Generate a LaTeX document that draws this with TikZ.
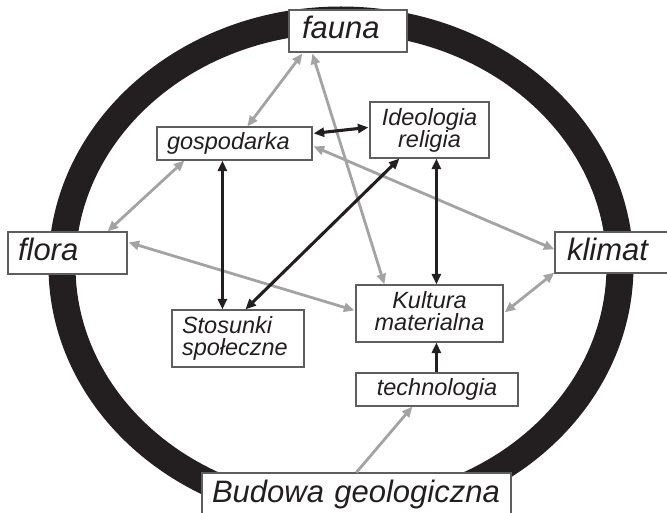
\documentclass[tikz,border=0pt]{standalone}
\usepackage{fontspec}
\setmainfont{Liberation Sans}
\usetikzlibrary{arrows.meta,calc}
\definecolor{ringc}{HTML}{231F20}
\definecolor{arrg}{HTML}{A3A3A3}
\definecolor{boxg}{HTML}{5E5E5E}
\begin{document}
\begin{tikzpicture}[x=1pt,y=-1pt,
  lbl/.style={draw=boxg, line width=1.2pt, fill=white, inner ysep=0pt, text=ringc},
  big/.style={font=\fontsize{31}{32}\selectfont\itshape, text height=22pt, text depth=6.5pt},
  small/.style={font=\fontsize{23.5}{22}\selectfont\itshape},
  one/.style={text height=17pt, text depth=5pt},
  garr/.style={draw=arrg, line width=2.8pt},
  barr/.style={draw=ringc, line width=3.1pt},
  >={Triangle[length=10.5pt,width=9pt]}]
\useasboundingbox (0,0) rectangle (667,513);
% ring
\draw[ringc, line width=27pt] (341,266) ellipse [x radius=279, y radius=246];
% nodes
\node[lbl,big,text width=92pt,inner xsep=13pt,minimum height=42pt,align=left] (fauna) at (348,31) {fauna};
\node[lbl,small,one,text width=135pt,inner xsep=10pt,minimum height=33pt,align=left] (gosp) at (234.5,143.5) {gospodarka};
\node[lbl,small,text width=109pt,inner xsep=5pt,minimum height=56pt,align=center] (ideo) at (429.5,130) {Ideologia\\religia};
\node[lbl,big,text width=99pt,inner xsep=10pt,minimum height=42pt,align=left] (flora) at (67.5,253) {flora};
\node[lbl,big,text width=93pt,inner xsep=12pt,minimum height=41pt,align=left] (klimat) at (613.5,252.5) {klimat};
\node[lbl,small,text width=137pt,inner xsep=5pt,minimum height=57pt,align=center] (kult) at (429.5,313.5) {Kultura\\materialna\vphantom{g}};
\node[lbl,small,text width=112pt,inner xsep=10pt,minimum height=57pt,align=left] (stos) at (238,338.5) {Stosunki\\społeczne};
\node[lbl,small,one,text width=152pt,inner xsep=5pt,minimum height=33pt,align=center] (tech) at (437,389.5) {technologia};
\node[lbl,big,text width=289pt,inner xsep=10pt,minimum height=44pt,align=left] (bud) at (356.5,495) {Budowa geologiczna};
% grey connectors
\draw[garr,<->] ($(fauna.south west)+(14,1)$) -- ($(gosp.north west)+(91,0)$);
\draw[garr,<->] ($(fauna.south west)+(24,1)$) -- ($(kult.north west)+(29,0)$);
\draw[garr,<->] ($(gosp.north east)+(1,20)$) -- ($(klimat.north west)+(0,18)$);
\draw[garr,<->] ($(gosp.south west)+(28,0)$) -- ($(flora.north east)+(-20,0)$);
\draw[garr,<->] ($(flora.north east)+(1,11)$) -- ($(kult.north west)+(-1,26)$);
\draw[garr,<->] ($(klimat.south west)+(0,-1)$) -- ($(kult.north east)+(1,28)$);
\draw[garr,->] ($(bud.north west)+(155,0)$) -- ($(tech.south west)+(57,0)$);
% black connectors
\draw[barr,<->] ($(gosp.north east)+(1,7)$) -- ($(ideo.north west)+(-1,26)$);
\draw[barr,<->] ($(gosp.south west)+(66,0)$) -- ($(stos.north west)+(51,0)$);
\draw[barr,<->] ($(ideo.south west)+(30,0)$) -- ($(stos.north west)+(74,0)$);
\draw[barr,<->] ($(ideo.south west)+(67,0)$) -- ($(kult.north west)+(81,0)$);
\draw[barr,->] ($(tech.north west)+(81,0)$) -- ($(kult.south west)+(81,0)$);
\end{tikzpicture}
\end{document}
